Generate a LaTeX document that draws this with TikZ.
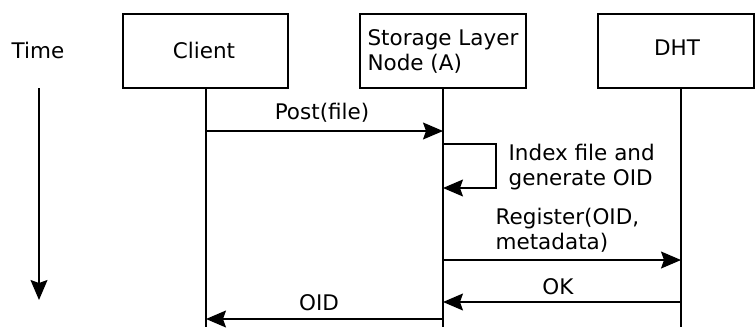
\documentclass[tikz,border=0pt]{standalone}
\usepackage{fontspec}
\setmainfont{DejaVu Sans}
\usetikzlibrary{arrows.meta}
\begin{document}
\begin{tikzpicture}[x=1pt, y=-1pt, line width=1.3pt,
  txt/.style={font=\fontsize{21.5}{25}\selectfont, inner sep=0pt},
  actor/.style={draw, txt, minimum height=74pt},
  msg/.style={-{Stealth[length=20pt 0, width=17pt 0, inset=3pt 0]}}]
\useasboundingbox (0,0) rectangle (755,327);

% participants
\node[actor, minimum width=165pt] (client) at (205.5,51) {};
\node[txt] (clientLbl) at (204,50) {Client};
\node[actor, minimum width=166pt, align=left] (storage) at (443,51) {Storage Layer\\Node (A)};
\node[actor, minimum width=156pt] (dht) at (676,51) {};
\node[txt] (dhtLbl) at (677,47.5) {DHT};

% time axis
\node[txt] (time) at (38,50) {Time};
\coordinate (tTop) at (39,88);
\coordinate (tBot) at (39,300);
\draw[msg] (tTop) -- (tBot);

% lifeline tops and bottoms
\coordinate (clientTop) at (206,88);
\coordinate (storageTop) at (443,88);
\coordinate (dhtTop) at (681,88);
\coordinate (clientEnd) at (206,327);
\coordinate (storageEnd) at (443,327);
\coordinate (dhtEnd) at (681,327);
\draw (clientTop) -- (clientEnd);
\draw (storageTop) -- (storageEnd);
\draw (dhtTop) -- (dhtEnd);

% message points on the lifelines
\coordinate (c1) at (clientTop |- 0,131);
\coordinate (s1) at (storageTop |- 0,131);
\coordinate (s2) at (storageTop |- 0,144);
\coordinate (s3) at (storageTop |- 0,188);
\coordinate (s4) at (storageTop |- 0,260);
\coordinate (d4) at (dhtTop |- 0,260);
\coordinate (d5) at (dhtTop |- 0,302);
\coordinate (s5) at (storageTop |- 0,302);
\coordinate (s6) at (storageTop |- 0,319);
\coordinate (c6) at (clientTop |- 0,319);

% messages
\draw[msg] (c1) -- (s1);
\node[txt] (postLbl) at (322,113) {Post(file)};

\draw[msg] (s2) -- (496,144) -- (496,188) -- (s3);
\node[txt, align=left, anchor=west] (indexLbl) at (508,167) {Index file and\\generate OID};

\draw[msg] (s4) -- (d4);
\node[txt, align=left, anchor=west] (regLbl) at (495,230) {Register(OID,\\metadata)};

\draw[msg] (d5) -- (s5);
\node[txt] (okLbl) at (558,287) {OK};

\draw[msg] (s6) -- (c6);
\node[txt] (oidLbl) at (319,303) {OID};
\end{tikzpicture}
\end{document}
